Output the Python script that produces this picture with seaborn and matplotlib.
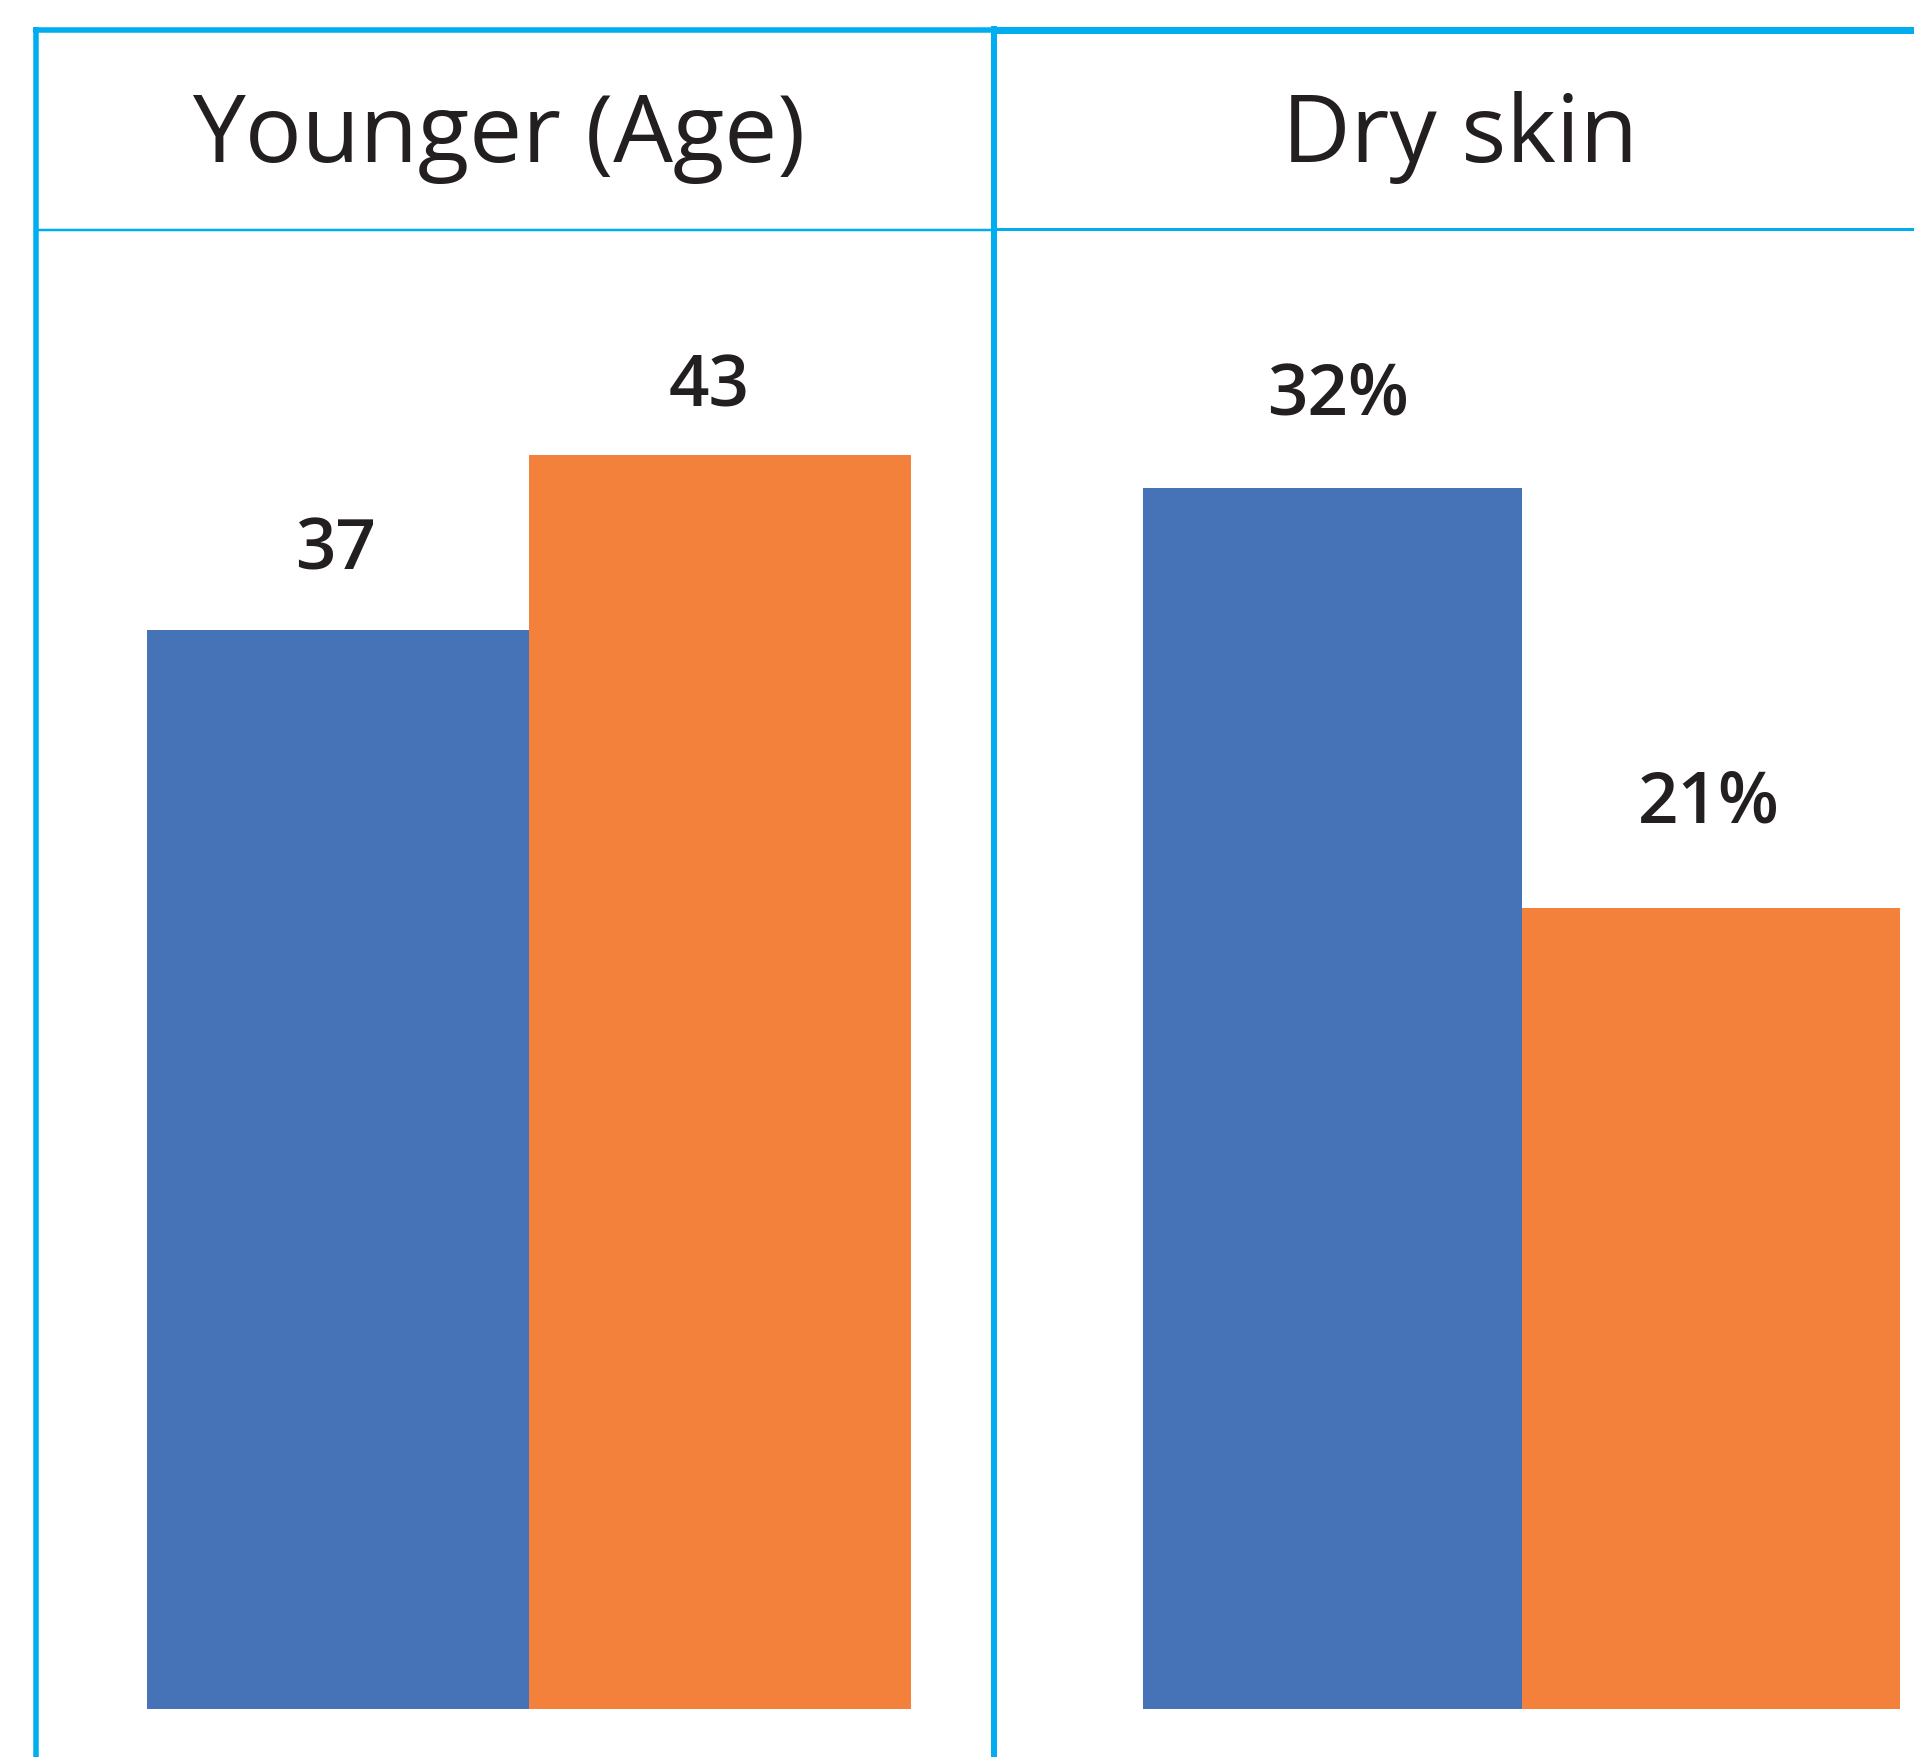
import matplotlib
matplotlib.use("Agg")
import matplotlib.pyplot as plt
from matplotlib.lines import Line2D
import seaborn as sns
import pandas as pd

# ---------------- data ----------------
panels = ["Younger (Age)", "Dry skin"]
series = ["Series 1", "Series 2"]
younger_values = [37, 43]
dry_skin_values = [32, 21]
younger_labels = ["37", "43"]
dry_skin_labels = ["32%", "21%"]

# ---------------- styles ----------------
BLUE = "#4672B8"
ORANGE = "#F3803B"
LINE = "#00AEEF"
TEXT = "#231F20"

sns.set_theme(style="white")
plt.rcParams["font.family"] = ["Open Sans", "DejaVu Sans"]

W, H = 1915, 1757
fig = plt.figure(figsize=(W / 100, H / 100), dpi=100)
fig.patch.set_facecolor("white")


def fx(px):
    return px / W


def fy(py):
    return 1 - py / H


df = pd.DataFrame({
    "panel": [panels[0]] * 2 + [panels[1]] * 2,
    "series": series * 2,
    "value": younger_values + dry_skin_values,
})

# layout (pixels): axes left/right, bar group centre, px per x-unit, px per y-unit
BASE_Y = 1709
TOP_Y = 230
layouts = [
    dict(left=36, right=994, center=529, xs=955.0, ys=29.16),
    dict(left=994, right=1915, center=1521.5, xs=946.25, ys=38.16),
]
labels_all = [younger_labels, dry_skin_labels]
# label offsets (pixels): dx, gap above bar top to baseline
label_offsets = [[(-3, 61), (-11, 49)], [(5.5, 73), (-2, 85)]]

for i, (p, lay) in enumerate(zip(panels, layouts)):
    ax = fig.add_axes([fx(lay["left"]), fy(BASE_Y), fx(lay["right"] - lay["left"]),
                       (BASE_Y - TOP_Y) / H])
    sub = df[df["panel"] == p]
    sns.barplot(data=sub, x="panel", y="value", hue="series", hue_order=series,
                palette=[BLUE, ORANGE], saturation=1, width=0.8, dodge=True,
                legend=False, ax=ax, linewidth=0, errorbar=None)
    ax.set_xlim((lay["left"] - lay["center"]) / lay["xs"],
                (lay["right"] - lay["center"]) / lay["xs"])
    ax.set_ylim(0, (BASE_Y - TOP_Y) / lay["ys"])
    ax.axis("off")
    ax.patch.set_alpha(0)
    bars = sorted(ax.patches, key=lambda r: r.get_x())
    for bar, lab, (dx, dy) in zip(bars, labels_all[i], label_offsets[i]):
        ax.annotate(lab, xy=(bar.get_x() + bar.get_width() / 2, bar.get_height()),
                    xytext=(dx * 0.72, dy * 0.72), textcoords="offset points",
                    ha="center", va="baseline", fontsize=51, fontweight="semibold",
                    color=TEXT)

# titles
fig.text(fx(499), fy(162), panels[0], ha="center", va="baseline", fontsize=68,
         color=TEXT)
fig.text(fx(1460), fy(162), panels[1], ha="center", va="baseline", fontsize=68,
         color=TEXT)

# frame lines


def hline(y, x0, x1, lw_px):
    fig.add_artist(Line2D([fx(x0), fx(x1)], [fy(y), fy(y)], color=LINE,
                          lw=lw_px * 0.72, solid_capstyle="butt",
                          transform=fig.transFigure))


def vline(x, y0, y1, lw_px):
    fig.add_artist(Line2D([fx(x), fx(x)], [fy(y0), fy(y1)], color=LINE,
                          lw=lw_px * 0.72, solid_capstyle="butt",
                          transform=fig.transFigure))


hline(29.5, 33, 994, 5.5)
hline(29.5, 994, 1915, 7)
hline(230, 36, 994, 2.5)
hline(228.5, 994, 1915, 3)
vline(36, 27, H, 5.5)
vline(994, 26, H, 6)

fig.savefig("out.png", dpi=100, facecolor="white")
